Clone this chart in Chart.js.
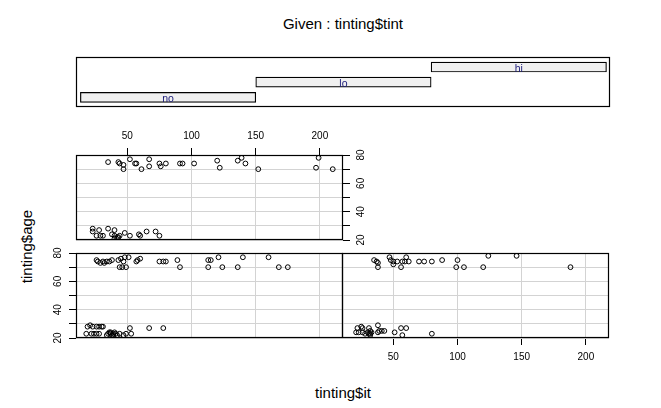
<!DOCTYPE html>
<html>
<head>
<meta charset="utf-8">
<script src="https://cdn.jsdelivr.net/npm/chart.js@4.4.0/dist/chart.umd.min.js"></script>
<style>
  html, body { margin: 0; padding: 0; background: #fff; }
  body { width: 661px; height: 408px; position: relative; overflow: hidden; font-family: "Liberation Sans", Arial, sans-serif; }
  canvas { position: absolute; }
  .lbl { position: absolute; color: #000; font-size: 15px; line-height: 1; white-space: nowrap; }
</style>
</head>
<body>
<div class="lbl" style="left:0;width:686px;text-align:center;top:16px">Given : tinting$tint</div>
<div class="lbl" style="left:0;width:686px;text-align:center;top:385px">tinting$it</div>
<div class="lbl" style="left:-74px;width:200px;text-align:center;top:239px;transform:rotate(-90deg)">tinting$age</div>

<canvas id="given" width="536" height="52" style="left:75px;top:56px"></canvas>
<canvas id="hiPanel" width="308" height="128" style="left:75px;top:120px"></canvas>
<canvas id="noPanel" width="309" height="101" style="left:35px;top:245px"></canvas>
<canvas id="loPanel" width="269" height="116" style="left:341px;top:252px"></canvas>

<script>
(function(){
  'use strict';

  // axes
  const xTicks = [50, 100, 150, 200];
  const yLabels = [20, 40, 60, 80];

  // given : tinting$tint
  const tintLevels = ['no', 'lo', 'hi'];
  const tintFrom = [0.5, 1.5, 2.5];
  const tintTo = [1.5, 2.5, 3.5];

  // tint = no (bottom left)
  const noIt  = [26, 27, 29, 31, 32, 34, 36, 38, 43, 45, 47, 48, 51, 44, 46, 49, 57, 58, 60, 75, 78, 80, 89, 91, 113, 115, 121, 113, 124, 136, 140, 160, 168, 175,
                 19, 21, 23, 26, 28, 30, 31, 18, 22, 24, 26, 28, 34, 35, 36, 37, 38, 39, 40, 42, 44, 47, 49, 52, 53, 67, 78, 37, 39, 41];
  const noAge = [75, 74, 73, 74, 73, 74, 74, 75, 75, 76, 74, 77, 77, 70, 70, 70, 74, 75, 76, 74, 74, 74, 75, 70, 75, 75, 77, 70, 70, 70, 77, 77, 70, 70,
                 28, 29, 28, 28, 28, 28, 28, 23, 23, 23, 23, 23, 22, 23, 24, 24, 22, 23, 24, 22, 23, 22, 23, 27, 23, 27, 27, 23, 22, 23];

  // tint = lo (bottom right)
  const loIt  = [35, 37, 38, 38, 47, 48, 50, 50, 53, 56, 57, 60, 59, 62, 70, 74, 80, 88, 100, 99, 105, 120, 124, 146, 188,
                 22, 25, 26, 21, 23, 26, 28, 30, 31, 32, 32, 38, 38, 39, 41, 43, 51, 56, 60, 57, 80, 31, 32, 33];
  const loAge = [75, 74, 73, 70, 77, 75, 74, 72, 74, 70, 74, 77, 74, 74, 74, 74, 74, 75, 75, 70, 70, 70, 78, 78, 70,
                 27, 28, 27, 24, 24, 24, 23, 24, 27, 22, 25, 29, 24, 25, 25, 25, 24, 27, 27, 22, 23, 23, 23, 24];

  // tint = hi (top left)
  const hiIt  = [35, 43, 44, 47, 47, 52, 56, 57, 61, 67, 67, 75, 76, 80, 91, 93, 102, 120, 122, 136, 139, 142, 152, 199, 197, 210,
                 23, 23, 28, 26, 29, 31, 35, 40, 38, 40, 42, 43, 44, 40, 48, 52, 59, 60, 65, 72, 75];
  const hiAge = [75, 75, 74, 73, 70, 77, 74, 74, 70, 77, 72, 74, 72, 74, 74, 74, 74, 76, 71, 76, 78, 74, 70, 78, 71, 70,
                 28, 26, 27, 23, 23, 23, 28, 27, 24, 23, 22, 22, 23, 21, 25, 23, 24, 23, 26, 26, 23];

  const gridCol = '#d3d3d3';
  const font = { family: '"Liberation Sans", Arial, sans-serif', size: 10 };

  // full box round the plotting area, like R's box()
  const panelBox = {
    id: 'panelBox',
    afterDraw(chart){
      const a = chart.chartArea, c = chart.ctx;
      c.save();
      c.strokeStyle = '#000';
      c.lineWidth = 1.2;
      c.strokeRect(Math.round(a.left) + 0.5, Math.round(a.top) + 0.5, Math.round(a.right - a.left) - 1, Math.round(a.bottom - a.top) - 1);
      c.restore();
    }
  };

  // rotated y tick labels (R las=0)
  const sideLabels = {
    id: 'sideLabels',
    afterDraw(chart, args, opts){
      if(!opts || !opts.side) return;
      const s = chart.scales.y, a = chart.chartArea, c = chart.ctx;
      const x = opts.side === 'right' ? a.right + opts.offset : a.left - opts.offset;
      c.save();
      c.fillStyle = '#000';
      c.font = font.size + 'px ' + font.family;
      c.textAlign = 'center';
      c.textBaseline = 'middle';
      yLabels.forEach(v => {
        c.save();
        c.translate(x, s.getPixelForValue(v));
        c.rotate(-Math.PI / 2);
        c.fillText(String(v), 0, 0);
        c.restore();
      });
      c.restore();
    }
  };

  // level names inside the given bars
  const barText = {
    id: 'barText',
    afterDatasetsDraw(chart){
      const sx = chart.scales.x, sy = chart.scales.y, c = chart.ctx;
      c.save();
      c.fillStyle = '#1a1a7a';
      c.font = '10.5px ' + font.family;
      c.textAlign = 'center';
      c.textBaseline = 'alphabetic';
      tintLevels.forEach((n, i) => {
        const cx = sx.getPixelForValue((tintFrom[i] + tintTo[i]) / 2);
        const cy = sy.getPixelForValue(i + 1);
        c.fillText(n, cx, cy + 4.5);
      });
      c.restore();
    }
  };

  function panelChart(id, it, age, o){
    const pts = it.map((v, i) => ({ x: v, y: age[i] }));
    return new Chart(document.getElementById(id), {
      type: 'scatter',
      data: { datasets: [{
        data: pts, pointStyle: 'circle', pointRadius: 2.4, pointBorderWidth: 1,
        borderColor: '#000', backgroundColor: 'rgba(0,0,0,0)'
      }] },
      options: {
        responsive: false, animation: false, events: [],
        layout: { padding: o.pad, autoPadding: false },
        plugins: {
          legend: { display: false }, tooltip: { enabled: false },
          sideLabels: o.side ? { side: o.side, offset: 18 } : {}
        },
        scales: {
          x: {
            type: 'linear', position: o.xPos, min: 10, max: 218, offset: false,
            afterBuildTicks: s => { s.ticks = xTicks.map(v => ({ value: v })); },
            afterFit: s => { s.height = o.xSize; },
            grid: { color: gridCol, drawTicks: o.xTicks, tickLength: 7, tickColor: '#000' },
            border: { display: false },
            ticks: { display: o.xTicks, padding: 6, color: '#000', font: font, maxRotation: 0, autoSkip: false }
          },
          y: {
            type: 'linear', position: o.yPos, min: 20, max: 80, offset: false,
            afterFit: s => { s.width = o.ySize; },
            grid: { color: gridCol, drawTicks: !!o.side, tickLength: 7, tickColor: '#000' },
            border: { display: false },
            ticks: { display: false, stepSize: 10 }
          }
        }
      },
      plugins: [panelBox, sideLabels]
    });
  }

  panelChart('hiPanel', hiIt, hiAge, { pad: { left: 1, bottom: 8, top: 0, right: 0 }, xPos: 'top', xSize: 35, xTicks: true, yPos: 'right', ySize: 40, side: 'right' });
  panelChart('noPanel', noIt, noAge, { pad: { left: 0, bottom: 8, top: 8, right: 1 }, xPos: 'bottom', xSize: 0, xTicks: false, yPos: 'left', ySize: 41, side: 'left' });
  panelChart('loPanel', loIt, loAge, { pad: { left: 1, bottom: 0, top: 1, right: 1 }, xPos: 'bottom', xSize: 30, xTicks: true, yPos: 'left', ySize: 0, side: null });

  new Chart(document.getElementById('given'), {
    type: 'bar',
    data: { datasets: [{
      data: tintLevels.map((n, i) => ({ x: [tintFrom[i], tintTo[i]], y: i + 1 })),
      backgroundColor: '#f0f0f0', borderColor: '#000', borderWidth: 1.2, borderSkipped: false, barThickness: 10
    }] },
    options: {
      indexAxis: 'y', responsive: false, animation: false, events: [],
      layout: { padding: 1, autoPadding: false },
      plugins: { legend: { display: false }, tooltip: { enabled: false } },
      scales: {
        x: { type: 'linear', display: false, min: 0.475, max: 3.52, offset: false },
        y: { type: 'linear', display: false, min: 0.364, max: 3.66, offset: false, grace: 0 }
      }
    },
    plugins: [panelBox, barText]
  });
})();
</script>
</body>
</html>
